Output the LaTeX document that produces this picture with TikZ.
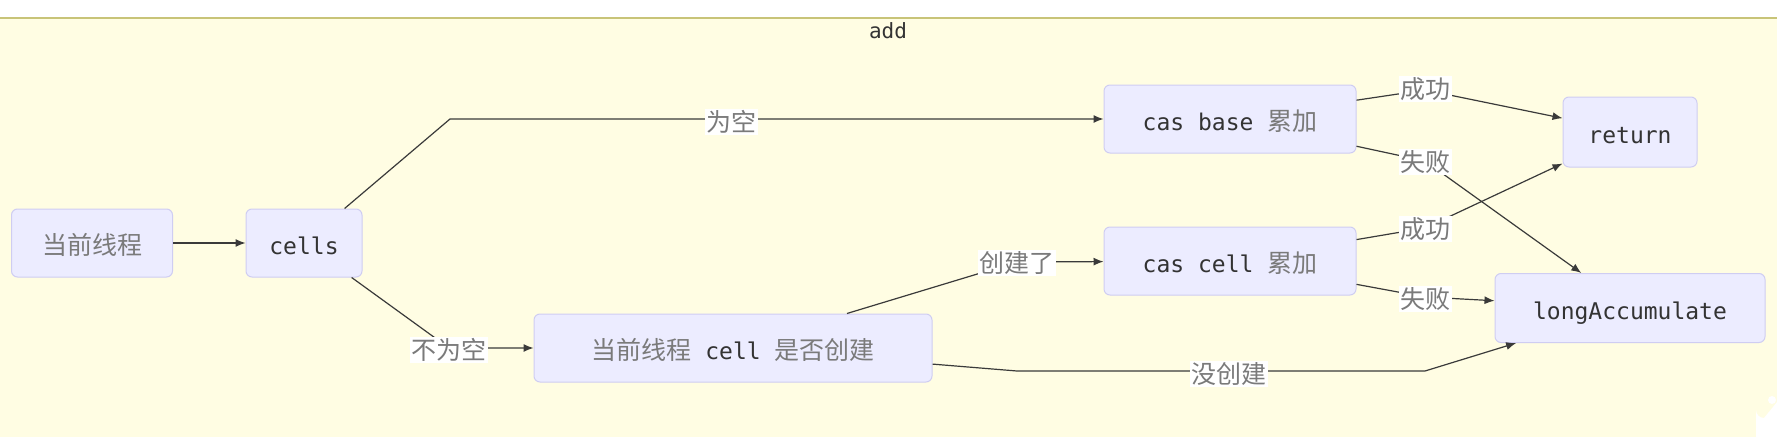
\documentclass[tikz,border=0pt]{standalone}
\usepackage{fontspec}
\setmonofont{DejaVu Sans Mono}
\newfontfamily\cjk{Noto Sans CJK SC}
\usetikzlibrary{arrows.meta}
\definecolor{bgfill}{HTML}{FFFDE3}
\definecolor{bgline}{HTML}{C8C478}
\definecolor{boxfill}{HTML}{ECECFF}
\definecolor{boxline}{HTML}{CFCDF2}
\definecolor{edgecol}{HTML}{3A3A3A}
\definecolor{txt}{HTML}{333333}
\definecolor{cjkgray}{HTML}{7A7A7A}
\newcommand{\zh}[1]{{\cjk\fontsize{25}{26}\selectfont\color{cjkgray}#1}}
\newcommand{\tw}[1]{{\ttfamily\color{txt}#1}}
\tikzset{
  box/.style={draw=boxline, fill=boxfill, rounded corners=6pt, line width=1pt,
    minimum height=68pt, inner sep=0pt, align=center,
    text height=23pt, text depth=0pt,
    font=\fontsize{23}{24}\selectfont},
  elabel/.style={fill=white, inner sep=1.5pt, font=\fontsize{25}{26}\selectfont},
  edge/.style={draw=edgecol, line width=1.2pt, -{Latex[length=10pt,width=8pt]}}
}
\begin{document}
\begin{tikzpicture}[x=1pt,y=-1pt]
\useasboundingbox (0,0) rectangle (1777,444);
\fill[white] (0,0) rectangle (1777,444);
\fill[bgfill] (0,18) rectangle (1777,437);
\draw[bgline, line width=1.2pt] (0,18) -- (1777,18);
\node[font=\fontsize{21}{22}\selectfont] (title) at (888,31) {\tw{add}};

% nodes
\node[box, minimum width=161pt] (cur) at (92,243) {\zh{当前线程}};
\node[box, minimum width=116pt] (cells) at (304,243) {\tw{cells}};
\node[box, minimum width=398pt] (iscreated) at (733,348) {\zh{当前线程}\tw{\ cell\ }\zh{是否创建}};
\node[box, minimum width=252pt] (casbase) at (1230,119) {\tw{cas base\ }\zh{累加}};
\node[box, minimum width=252pt] (cascell) at (1230,261) {\tw{cas cell\ }\zh{累加}};
\node[box, minimum width=134pt, minimum height=70pt] (ret) at (1630,132) {\tw{return}};
\node[box, minimum width=270pt, minimum height=69pt] (longacc) at (1630,308) {\tw{longAccumulate}};

% bend coordinates
\coordinate (b1) at (450,119);
\coordinate (l2) at (449,348);
\coordinate (l3) at (1017,262);
\coordinate (b4a) at (1017,371);
\coordinate (b4b) at (1425,371);
\coordinate (l5) at (1425,90);
\coordinate (l6) at (1425,161);
\coordinate (l7) at (1425,228);
\coordinate (l8) at (1425,297);

% connectors
\draw[edge] (cur) -- (cells);
\draw[edge] (cells) -- (b1) -- (casbase);
\draw[edge] (cells) -- (l2) -- (iscreated);
\draw[edge] (iscreated) -- (l3) -- (cascell);
\draw[edge] (iscreated) -- (b4a) -- (b4b) -- (longacc);
\draw[edge] (casbase) -- (l5) -- (ret);
\draw[edge] (casbase) -- (l6) -- (longacc);
\draw[edge] (cascell) -- (l7) -- (ret);
\draw[edge] (cascell) -- (l8) -- (longacc);

% edge labels
\node[elabel] (t1) at (731,122) {\zh{为空}};
\node[elabel] (t2) at (449,350) {\zh{不为空}};
\node[elabel] (t3) at (1017,263) {\zh{创建了}};
\node[elabel] (t4) at (1229,374) {\zh{没创建}};
\node[elabel] (t5) at (1425,89) {\zh{成功}};
\node[elabel] (t6) at (1425,162) {\zh{失败}};
\node[elabel] (t7) at (1425,229) {\zh{成功}};
\node[elabel] (t8) at (1425,299) {\zh{失败}};

% corner overlay
\fill[white] (1756,444) -- (1756,410) arc[start angle=180, end angle=90, radius=8] -- (1777,402) -- (1777,444) -- cycle;
\fill[white] (1772,400) circle (4);
\end{tikzpicture}
\end{document}
